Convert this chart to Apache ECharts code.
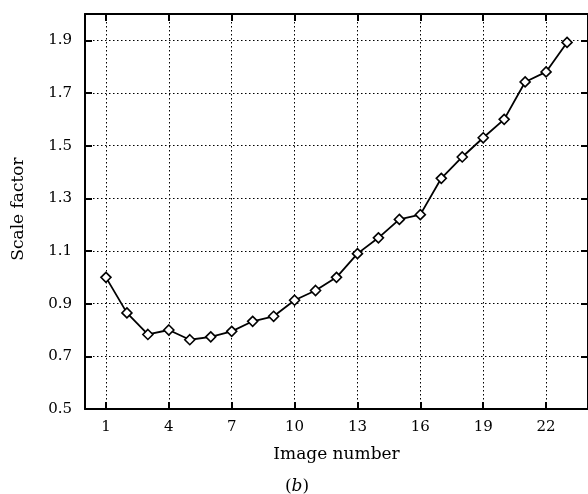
<!DOCTYPE html>
<html>
<head>
<meta charset="utf-8">
<script src="https://cdn.jsdelivr.net/npm/echarts@6/dist/echarts.min.js"></script>
<style>html,body{margin:0;padding:0;background:#fff}#c{width:588px;height:494px}</style>
</head>
<body>
<div id="c"></div>
<script>
// Data
const imageNumbers = [1,2,3,4,5,6,7,8,9,10,11,12,13,14,15,16,17,18,19,20,21,22,23];
const scaleFactors = [1.000,0.865,0.783,0.800,0.763,0.774,0.795,0.833,0.852,0.913,0.950,1.000,1.090,1.150,1.220,1.238,1.376,1.457,1.530,1.600,1.742,1.780,1.892];
// Axis positions (category grid used for ticks / grid lines)
const xCats = ['0','1','2','3','4','5','6','7','8','9','10','11','12','13','14','15','16','17','18','19','20','21','22','23','24'];
const xTickLabels = ['1','4','7','10','13','16','19','22'];
const yCats = ['0.5','0.6','0.7','0.8','0.9','1.0','1.1','1.2','1.3','1.4','1.5','1.6','1.7','1.8','1.9','2.0'];
const yTickLabels = ['0.5','0.7','0.9','1.1','1.3','1.5','1.7','1.9'];
const xTitle = 'Image number';
const yTitle = 'Scale factor';

const FONT = 'DejaVu Serif';
const xShow = (i, v) => xTickLabels.indexOf(v) >= 0;
const yShow = (i, v) => yTickLabels.indexOf(v) >= 0;
const ySplit = (i, v) => yTickLabels.indexOf(v) > 0;

const chart = echarts.init(document.getElementById('c'));
chart.setOption({
  animation: false,
  backgroundColor: '#fff',
  grid: { left: 85, top: 14, right: -4, bottom: 85, containLabel: false },
  xAxis: [
    { type: 'value', min: 0, max: 24, show: false, position: 'bottom' },
    {
      type: 'category', data: xCats, boundaryGap: false, position: 'bottom',
      axisLine: { show: true, lineStyle: { color: '#000', width: 2 } },
      axisTick: { show: true, inside: true, length: 7, interval: xShow, lineStyle: { color: '#000', width: 2 } },
      axisLabel: { show: true, interval: xShow, color: '#000', fontFamily: FONT, fontSize: 15, margin: 11 },
      splitLine: { show: true, interval: xShow, lineStyle: { color: '#000', width: 1, type: [1.5, 2.5] } },
      name: xTitle, nameLocation: 'middle', nameGap: 37,
      nameTextStyle: { color: '#000', fontFamily: FONT, fontSize: 17 }
    },
    {
      type: 'category', data: xCats, boundaryGap: false, position: 'top',
      axisLine: { show: true, lineStyle: { color: '#000', width: 2 } },
      axisTick: { show: true, inside: true, length: 7, interval: xShow, lineStyle: { color: '#000', width: 2 } },
      axisLabel: { show: false },
      splitLine: { show: false }
    }
  ],
  yAxis: [
    { type: 'value', min: 0.5, max: 2.0, show: false, position: 'left' },
    {
      type: 'category', data: yCats, boundaryGap: false, position: 'left',
      axisLine: { show: true, lineStyle: { color: '#000', width: 2 } },
      axisTick: { show: true, inside: true, length: 7, interval: yShow, lineStyle: { color: '#000', width: 2 } },
      axisLabel: { show: true, interval: yShow, color: '#000', fontFamily: FONT, fontSize: 15, margin: 13 },
      splitLine: { show: true, interval: ySplit, lineStyle: { color: '#000', width: 1, type: [1.5, 2.5] } }
    },
    {
      type: 'category', data: yCats, boundaryGap: false, position: 'right',
      axisLine: { show: true, lineStyle: { color: '#000', width: 2 } },
      axisTick: { show: true, inside: true, length: 7, interval: yShow, lineStyle: { color: '#000', width: 2 } },
      axisLabel: { show: false },
      splitLine: { show: false }
    }
  ],
  graphic: [
    {
      type: 'text', x: 19, y: 209, rotation: Math.PI / 2,
      style: { text: yTitle, fill: '#000', font: '17px "DejaVu Serif"', align: 'center', verticalAlign: 'middle' }
    },
    {
      type: 'text', x: 297, y: 487,
      style: {
        text: '({i|b})', fill: '#000', font: '17px "DejaVu Serif"', align: 'center', verticalAlign: 'middle',
        rich: { i: { fontStyle: 'italic', fontFamily: FONT, fontSize: 17, fill: '#000' } }
      }
    }
  ],
  series: [{
    type: 'line', xAxisIndex: 0, yAxisIndex: 0,
    data: imageNumbers.map((x, i) => [x, scaleFactors[i]]),
    symbol: 'diamond', symbolSize: 10,
    lineStyle: { color: '#000', width: 1.8 },
    itemStyle: { color: '#fff', borderColor: '#000', borderWidth: 1.6 },
    z: 5
  }]
});
</script>
</body>
</html>
